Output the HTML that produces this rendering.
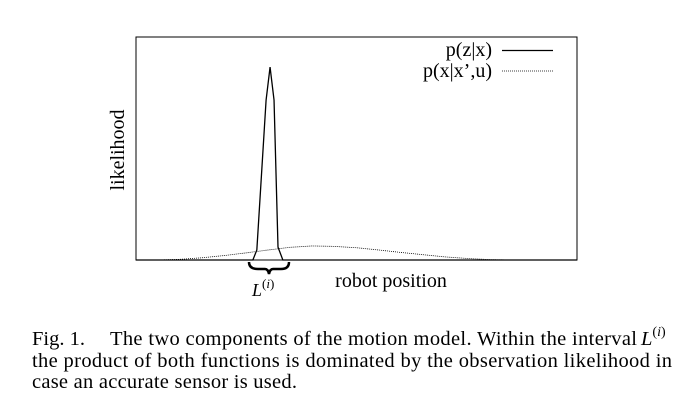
<!DOCTYPE html>
<html><head><meta charset="utf-8"><style>
html,body{margin:0;padding:0;background:#fff;}
svg{display:block;font-family:"Liberation Serif",serif;}
</style></head><body>
<svg width="693" height="401" viewBox="0 0 693 401">
<rect x="136" y="37" width="441" height="223" fill="none" stroke="#000" stroke-width="1"/>
<g id="series"></g>
<g>
<text x="492" y="56" font-size="20" text-anchor="end">p(z|x)</text>
<line x1="502" y1="50.5" x2="553" y2="50.5" stroke="#000" stroke-width="1.3"/>
<text x="492" y="77" font-size="20" text-anchor="end">p(x|x’,u)</text>
<line x1="502" y1="71" x2="553" y2="71" stroke="#000" stroke-width="0.8" stroke-dasharray="1,1"/>
</g>
<text transform="translate(124,150) rotate(-90)" font-size="20" text-anchor="middle">likelihood</text>
<text x="391" y="287" font-size="20" text-anchor="middle">robot position</text>
<path d="M249,262 Q249,269 258,269 L265,269 Q268,269 269,274 Q270,269 273,269 L281,269 Q289,269 289,262" fill="none" stroke="#000" stroke-width="2.5"/>
<text x="252" y="296" font-size="18" font-style="italic">L<tspan font-size="13" font-style="normal" dy="-8">(</tspan><tspan font-size="13">i</tspan><tspan font-size="13" font-style="normal">)</tspan></text>
<g font-size="20.5">
<text x="32" y="345">Fig. 1.</text>
<text x="110" y="345" textLength="527" lengthAdjust="spacing">The two components of the motion model. Within the interval</text>
<text x="641" y="345" font-style="italic">L<tspan font-size="14" font-style="normal" dy="-9">(</tspan><tspan font-size="14">i</tspan><tspan font-size="14" font-style="normal">)</tspan></text>
<text x="32" y="367" textLength="640" lengthAdjust="spacing">the product of both functions is dominated by the observation likelihood in</text>
<text x="32" y="388" textLength="265" lengthAdjust="spacing">case an accurate sensor is used.</text>
</g>
</svg>
<script>
const motionX=[0,5,10,15,20,25,30,35,40,45,50,55,60,65,70,75,80,85,90,95,100];
const motionY=[0,0,0.003,0.01,0.02,0.032,0.045,0.057,0.063,0.061,0.055,0.045,0.034,0.024,0.014,0.007,0.002,0,0,0,0];
const obsX=[0,26.5,27.4,29.5,30.4,31.3,32.2,33.3,100];
const obsY=[0,0,0.045,0.717,0.865,0.717,0.058,0,0];
const xs=v=>136+v/100*441;
const ys=v=>260-v*223;
const g=document.getElementById('series');
const NS='http://www.w3.org/2000/svg';
function line(X,Y,w,dash,name){
  const p=document.createElementNS(NS,'polyline');
  p.setAttribute('points',X.map((x,i)=>xs(x)+','+ys(Y[i])).join(' '));
  p.setAttribute('fill','none');p.setAttribute('stroke','#000');
  p.setAttribute('stroke-width',w);
  if(dash)p.setAttribute('stroke-dasharray',dash);
  
  
  g.appendChild(p);
}
line(motionX,motionY,0.8,'1,1','motion-model-line');
line(obsX,obsY,1.3,null,'observation-likelihood-line');
</script>
</body></html>
